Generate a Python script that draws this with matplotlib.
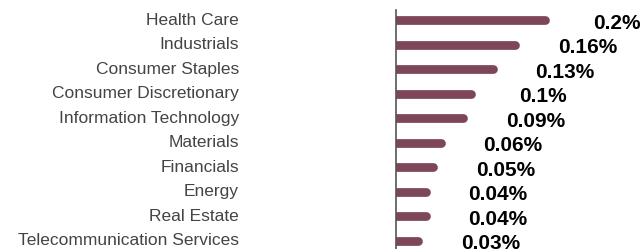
import matplotlib
matplotlib.use("Agg")
import matplotlib.pyplot as plt
import matplotlib.transforms as mtransforms

# sector weights (percent)
sectors = ["Health Care", "Industrials", "Consumer Staples", "Consumer Discretionary",
           "Information Technology", "Materials", "Financials", "Energy",
           "Real Estate", "Telecommunication Services"]
weights = [0.2, 0.16, 0.13, 0.1, 0.09, 0.06, 0.05, 0.04, 0.04, 0.03]
labels = ["0.2%", "0.16%", "0.13%", "0.1%", "0.09%", "0.06%", "0.05%", "0.04%", "0.04%", "0.03%"]

plt.rcParams['font.family'] = ['Liberation Sans', 'DejaVu Sans']

fig = plt.figure(figsize=(6.43, 2.49), dpi=100)
W, H = 643, 249
left, top, bottom = 396, 8, 253
ax = fig.add_axes([left / W, (H - bottom) / H, (W - left) / W, (bottom - top) / H])

ypos = list(range(len(sectors)))
bar_color = "#7d4659"
ax.hlines(ypos, 0, weights, color=bar_color, linewidth=6.3, capstyle="round")

for y, v, lab in zip(ypos, weights, labels):
    ax.annotate(lab, (v, y), xytext=(52, -2), textcoords="offset points",
                ha="center", va="center", fontsize=15, fontweight="bold", color="black")

ax.set_xlim(0, (W - left) / 745)
ax.set_ylim(len(sectors) - 0.5, -0.5)
ax.set_xticks([])
ax.set_yticks(ypos)
ax.set_yticklabels(sectors, fontsize=12.5, color="#444444")
ax.tick_params(axis="y", length=0, pad=113)
offset = mtransforms.ScaledTranslation(0, 1 / 72, fig.dpi_scale_trans)
for t in ax.get_yticklabels():
    t.set_transform(t.get_transform() + offset)

for s in ["top", "right", "bottom"]:
    ax.spines[s].set_visible(False)
ax.spines["left"].set_color("#555555")
ax.spines["left"].set_linewidth(1.2)
ax.spines["left"].set_bounds(-0.4, len(sectors) - 0.5)

fig.savefig("out.png", dpi=100)
